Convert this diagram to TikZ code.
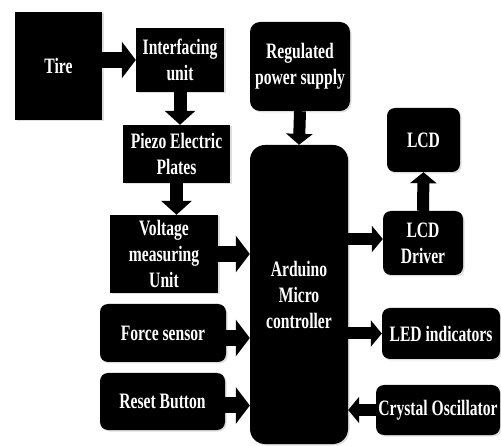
\documentclass[tikz,border=0pt]{standalone}
\usepackage{fontspec}
\setmainfont{Liberation Serif}[FakeStretch=0.71]
\usetikzlibrary{arrows.meta, shadows}

\begin{document}
\begin{tikzpicture}[
  x=1pt, y=-1pt,
  font=\bfseries\fontsize{22}{26}\selectfont,
  blk/.style={fill=black, text=white, align=center, inner sep=1pt,
              drop shadow={shadow xshift=1.5pt, shadow yshift=-1.5pt, fill=gray!50}},
  sqbox/.style={blk},
  rbox/.style={blk, rounded corners=8pt},
  harr/.style={line width=16pt, -{Triangle[length=14pt,width=36pt]}},
  varr/.style={line width=13pt, -{Triangle[length=14pt,width=30pt]}},
  sarr/.style={line width=12pt, -{Triangle[length=11pt,width=26pt]}},
]
\useasboundingbox (0,0) rectangle (501,446);

%% Sensing chain
\node[sqbox, minimum width=87pt, minimum height=108pt] (tire) at (58.5,66) {Tire};
\node[sqbox, minimum width=88pt, minimum height=64pt] (intf) at (180,60) {Interfacing\\unit};
\node[sqbox, minimum width=107pt, minimum height=58pt] (piezo) at (176.5,154) {Piezo Electric\\Plates};
\node[sqbox, minimum width=108pt, minimum height=78pt] (volt) at (164,254) {Voltage\\measuring\\Unit};

\draw[harr] (tire.east |- intf.west) -- (intf.west);
\draw[varr] (intf.south) -- (intf.south |- piezo.north);
\draw[varr] (piezo.south) -- (piezo.south |- volt.north);

%% Other inputs
\node[rbox, minimum width=126pt, minimum height=58pt] (force) at (163,333) {Force sensor};
\node[rbox, minimum width=125pt, minimum height=57pt] (reset) at (162.5,401.5) {Reset Button};

%% Controller and supply
\node[rbox, rounded corners=10pt, minimum width=100pt, minimum height=89pt] (reg) at (300,66.5) {Regulated\\power supply};
\node[rbox, rounded corners=15pt, minimum width=98pt, minimum height=299pt] (ard) at (299,294.5) {Arduino\\Micro\\controller};

\coordinate (fout) at ([yshift=-5pt]force.east);
\coordinate (rout) at ([yshift=-4pt]reset.east);

\draw[sarr] (reg.south) -- (ard.north);
\draw[harr] (volt.east) -- (volt.east -| ard.west);
\draw[harr] (fout) -- (fout -| ard.west);
\draw[harr] (rout) -- (rout -| ard.west);

%% Outputs
\node[rbox, minimum width=73pt, minimum height=64pt] (lcd) at (423.5,140) {LCD};
\node[rbox, minimum width=80pt, minimum height=64pt] (drv) at (423,243) {LCD\\Driver};
\node[rbox, minimum width=118pt, minimum height=51pt] (led) at (441,333.5) {LED indicators};
\node[rbox, minimum width=124pt, minimum height=50pt] (xtal) at (438,410) {Crystal Oscillator};

\coordinate (din) at ([yshift=4pt]drv.west);

\draw[sarr] (ard.east |- din) -- (din);
\draw[sarr] (drv.north) -- (lcd.south);
\draw[sarr] (ard.east |- led.west) -- (led.west);
\draw[sarr] (xtal.west) -- (ard.east |- xtal.west);

\end{tikzpicture}
\end{document}
